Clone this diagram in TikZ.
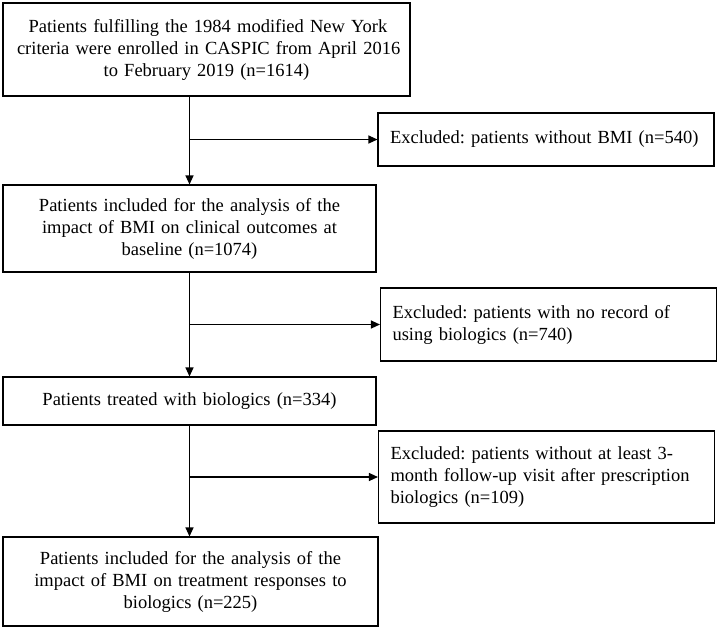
\documentclass[tikz,border=0pt]{standalone}
\usepackage{fontspec}
\setmainfont{Liberation Serif}
\frenchspacing
\usetikzlibrary{arrows.meta}
\begin{document}
\begin{tikzpicture}[x=1pt,y=-1pt,
		box/.style={draw,line width=1.1pt,inner xsep=12pt,inner ysep=0pt,align=center,font=\fontsize{18.5}{22}\selectfont},
		exbox/.style={box,align=left,text width=312pt,minimum width=336pt},
		flow/.style={line width=1.2pt,-{Triangle[length=9pt,width=8pt]}}]
			\useasboundingbox (0,0) rectangle (720,630);
			\node[box,text width=383pt,minimum height=93pt] (enroll) at (206.5,49.5) {\makebox[356pt][s]{Patients fulfilling the 1984 modified New York}\\\makebox[379pt][s]{criteria were enrolled in CASPIC from April 2016}\\to February 2019 (n=1614)};
			\node[box,text width=349pt,minimum height=87pt] (included) at (189.5,228.5) {Patients included for the analysis of the\\impact of BMI on clinical outcomes at\\baseline (n=1074)};
			\node[box,text width=349pt,minimum height=48pt] (treated) at (189.5,401) {Patients treated with biologics (n=334)};
			\node[box,text width=351pt,minimum height=89pt] (final) at (190.5,581.5) {Patients included for the analysis of the\\impact of BMI on treatment responses to\\biologics (n=225)};
			\node[exbox,minimum height=53pt] (exA) at (546,139.5) {Excluded: patients without BMI (n=540)};
			\node[exbox,minimum height=73pt] (exB) at (548.5,324.5) {Excluded: patients with no record of\\using biologics (n=740)};
			\node[exbox,minimum height=92pt] (exC) at (546.5,477) {Excluded: patients without at least 3-\\month follow-up visit after prescription\\biologics (n=109)};
			\draw[flow] (enroll.south -| included.north) -- (included.north);
			\draw[flow] (exA.west -| included.north) -- (exA.west);
			\draw[flow] (included.south) -- (treated.north);
			\draw[flow] (exB.west -| included.north) -- (exB.west);
			\draw[flow] (treated.south) -- (treated.south |- final.north);
			\draw[flow] (exC.west -| treated.south) -- (exC.west);
		\end{tikzpicture}
\end{document}
